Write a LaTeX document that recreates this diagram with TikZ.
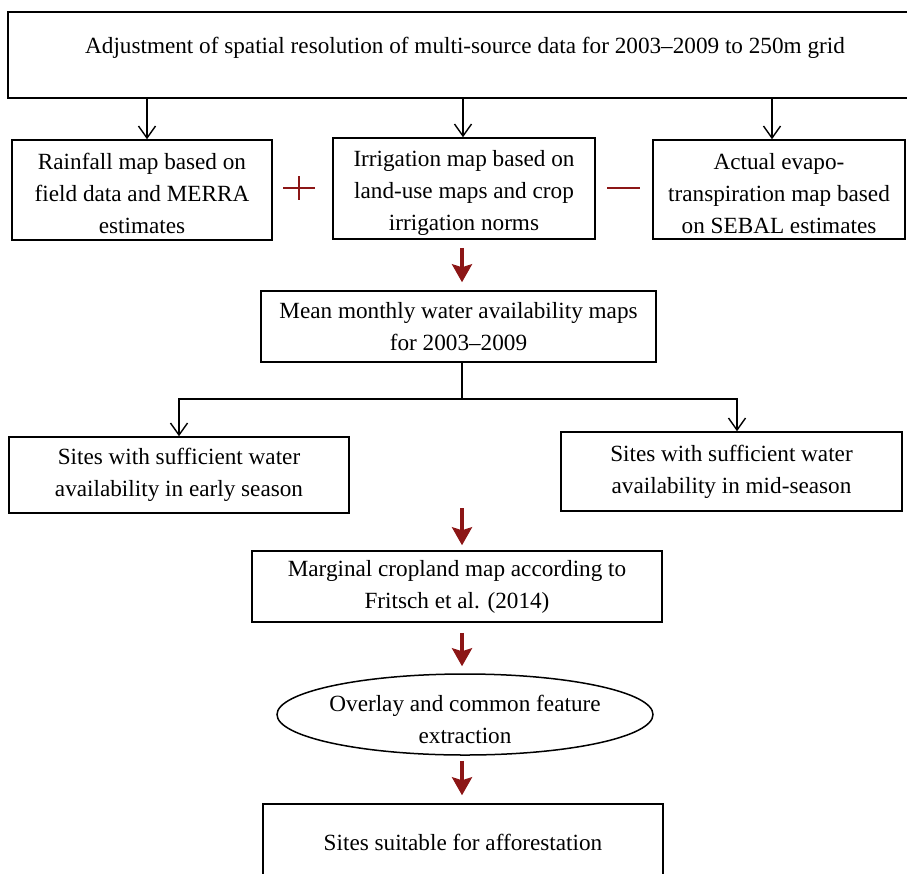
\documentclass[tikz,border=0pt]{standalone}
\usepackage{fontspec}
\setmainfont{Liberation Serif}
\usetikzlibrary{arrows.meta,shapes.geometric}
\definecolor{darkred}{RGB}{140,22,22}
\tikzset{
  txt/.style={inner sep=0pt, align=center, font=\fontsize{23.2}{32}\selectfont},
  box/.style={draw, line width=1.5pt, rectangle, inner sep=0pt, align=center, font=\fontsize{23.2}{32}\selectfont},
  oval/.style={draw, line width=1.5pt, ellipse, inner sep=0pt},
  blk/.style={line width=1.4pt, -{Straight Barb[length=12pt,width=17pt,line width=1.4pt]}},
  plainline/.style={line width=1.4pt},
  redarr/.style={draw=darkred, line width=3.5pt, -{Stealth[length=18pt,width=20pt,inset=3pt]}, darkred},
  sign/.style={draw=darkred, line width=2pt},
}
\begin{document}
\begin{tikzpicture}[x=1pt,y=-1pt]
\useasboundingbox (0,0) rectangle (907,873);
% top box
\node[box, minimum width=914pt, minimum height=86pt] (top) at (465,55) {};
\node[txt] (toptext) at (465,48) {Adjustment of spatial resolution of multi-source data for 2003--2009 to 250m grid};
% second row
\node[box, minimum width=260pt, minimum height=100pt] (rain) at (142,190) {};
\node[txt] (raintext) at (142,193) {Rainfall map based on\\field data and MERRA\\estimates};
\node[box, minimum width=262pt, minimum height=101pt] (irr) at (464,188.5) {};
\node[txt] (irrtext) at (464,193) {Irrigation map based on\\land-use maps and crop\\irrigation norms};
\node[box, minimum width=252pt, minimum height=99pt] (et) at (779,189.5) {};
\node[txt] (ettext) at (779,193.5) {Actual evapo-\\transpiration map based\\on SEBAL estimates};
\draw[blk] ([xshift=5pt]rain.north |- top.south) -- ([xshift=5pt]rain.north);
\draw[blk] ([xshift=-1pt]irr.north |- top.south) -- ([xshift=-1pt]irr.north);
\draw[blk] ([xshift=-7pt]et.north |- top.south) -- ([xshift=-7pt]et.north);
% plus and minus
\draw[sign] (283,188) -- (315,188);
\draw[sign] (299,176) -- (299,200);
\draw[sign] (607,188) -- (640,188);
% mean box
\node[box, minimum width=395pt, minimum height=71pt] (mean) at (458.5,326.5)
  {Mean monthly water availability maps\\for 2003--2009};
\coordinate (split) at (462,399);
\draw[redarr, shorten <=8pt, shorten >=8pt] (irr.south -| split) -- (mean.north -| split);
% sites
\node[box, minimum width=340pt, minimum height=76pt] (sitesL) at (179,475)
  {Sites with sufficient water\\availability in early season};
\node[box, minimum width=341pt, minimum height=79pt] (sitesR) at (731.5,471.5)
  {Sites with sufficient water\\availability in mid-season};
\draw[plainline] (mean.south -| split) -- (split);
\draw[blk] (split) -| (sitesL.north);
\draw[blk] (split) -| ([xshift=5.5pt]sitesR.north);
% marginal
\node[box, minimum width=410pt, minimum height=71pt] (marg) at (457,586.5)
  {Marginal cropland map according to\\Fritsch et al. (2014)};
\coordinate (r2) at (462,508);
\draw[redarr, shorten >=5pt] (r2) -- (marg.north -| r2);
% overlay
\node[oval, minimum width=376pt, minimum height=81pt] (ov) at (465,714.5) {};
\node[txt] (ovtext) at (465,719.5) {Overlay and common feature\\extraction};
\draw[redarr, shorten <=10pt, shorten >=7pt] (marg.south -| split) -- (ov.north -| split);
% final
\node[box, minimum width=400pt, minimum height=76pt] (final) at (463,842)
  {Sites suitable for afforestation};
\draw[redarr, shorten <=5pt, shorten >=8pt] (ov.south -| split) -- (final.north -| split);
\end{tikzpicture}
\end{document}
